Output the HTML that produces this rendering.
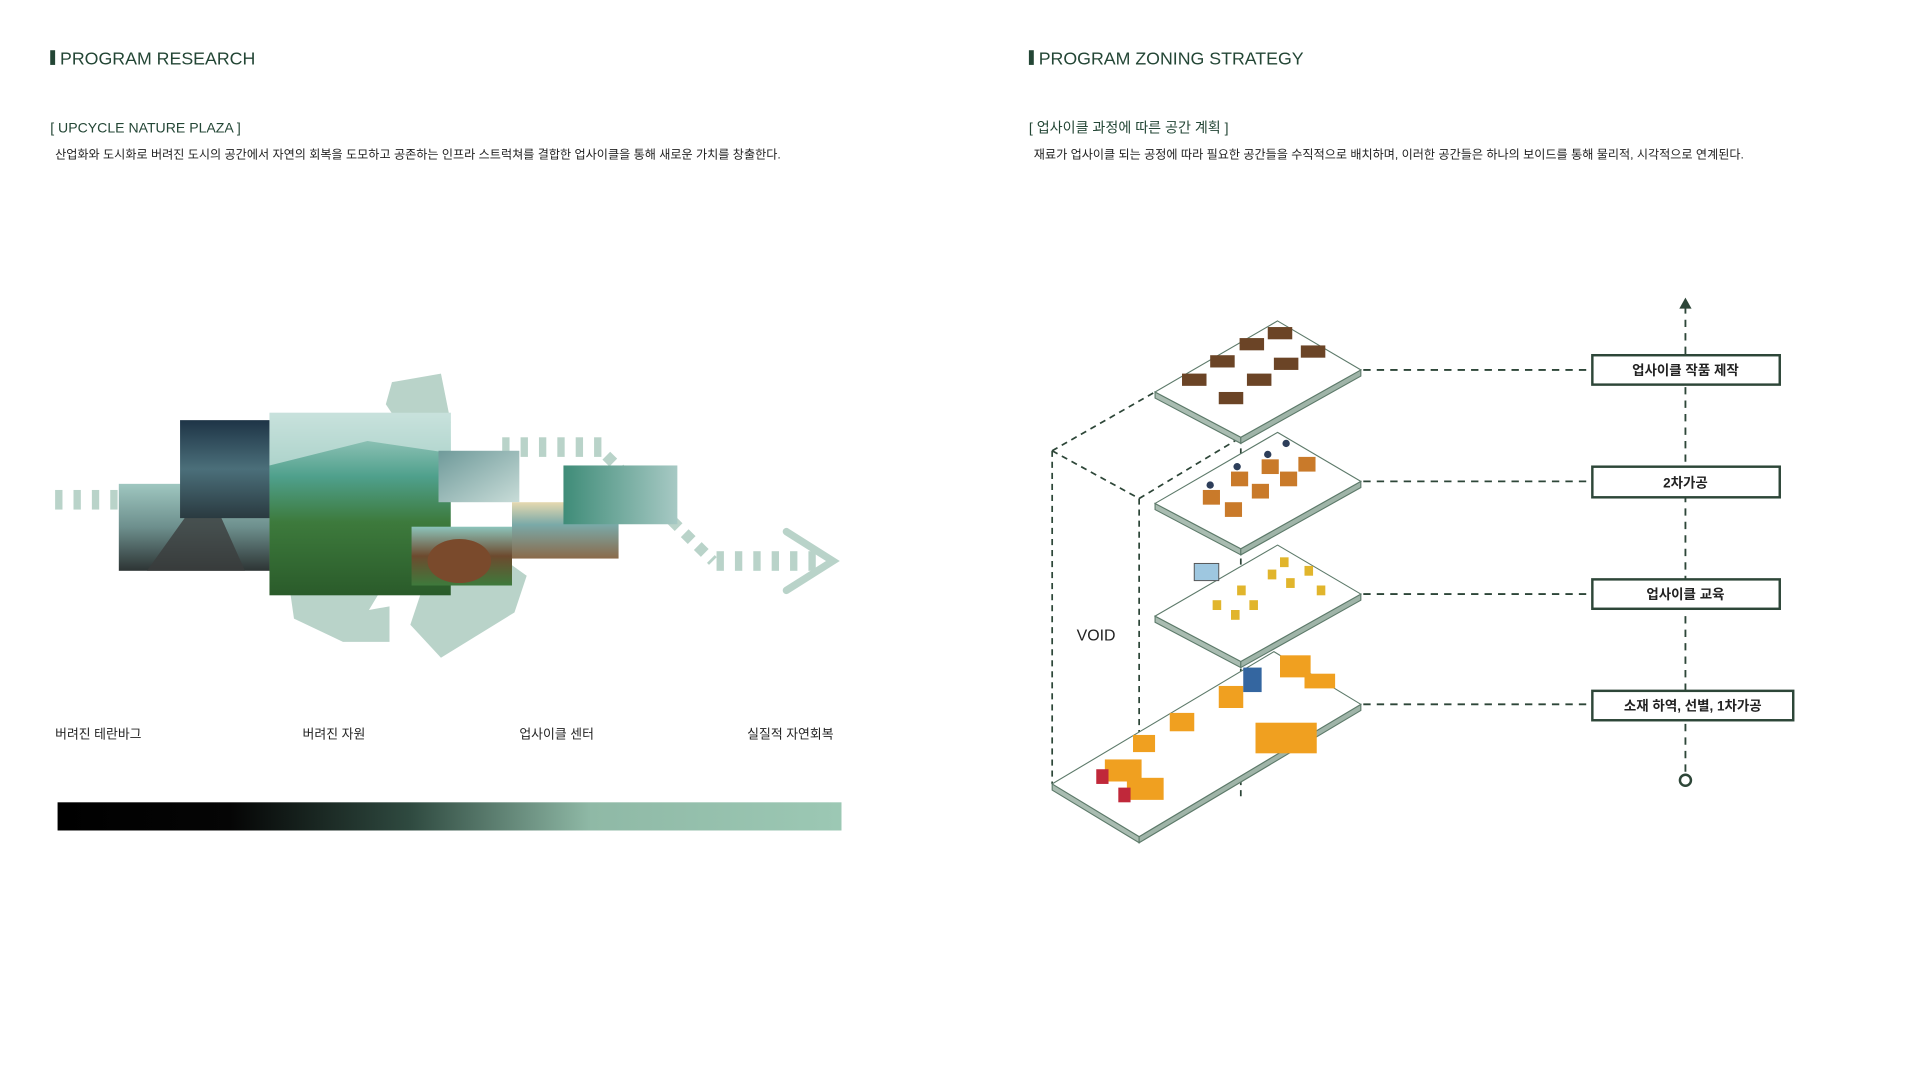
<!DOCTYPE html>
<html><head><meta charset="utf-8"><style>
html,body{margin:0;padding:0;background:#fff;}
svg{display:block;}
text{font-family:"Liberation Sans","Noto Sans CJK KR",sans-serif;}
</style></head><body>
<svg width="1920" height="1080" viewBox="0 0 1567.5 881.7" preserveAspectRatio="none" xmlns="http://www.w3.org/2000/svg">
<defs>
<linearGradient id="bar" x1="0" x2="1" y1="0" y2="0">
<stop offset="0" stop-color="#000"/><stop offset="0.22" stop-color="#050505"/><stop offset="0.45" stop-color="#2f4a40"/><stop offset="0.68" stop-color="#8fb9a6"/><stop offset="1" stop-color="#9cc8b4"/>
</linearGradient>
<linearGradient id="g1" x1="0" x2="0" y1="0" y2="1"><stop offset="0" stop-color="#9fc7c0"/><stop offset="0.5" stop-color="#6d8f8d"/><stop offset="1" stop-color="#2d3434"/></linearGradient>
<linearGradient id="g2" x1="0" x2="0" y1="0" y2="1"><stop offset="0" stop-color="#1e3446"/><stop offset="0.5" stop-color="#4b6f7a"/><stop offset="1" stop-color="#2a3a40"/></linearGradient>
<linearGradient id="g3" x1="0" x2="0" y1="0" y2="1"><stop offset="0" stop-color="#b9d9d2"/><stop offset="0.35" stop-color="#4fa08c"/><stop offset="0.6" stop-color="#3d7a3c"/><stop offset="1" stop-color="#2a5b2a"/></linearGradient>
<linearGradient id="g4" x1="0" x2="1" y1="0" y2="1"><stop offset="0" stop-color="#6f9a9a"/><stop offset="1" stop-color="#c8dcd8"/></linearGradient>
<linearGradient id="g5" x1="0" x2="0" y1="0" y2="1"><stop offset="0" stop-color="#e6d9b0"/><stop offset="0.4" stop-color="#7aa9a8"/><stop offset="1" stop-color="#8a6a4a"/></linearGradient>
<linearGradient id="g6" x1="0" x2="1" y1="0" y2="0"><stop offset="0" stop-color="#3f8c78"/><stop offset="1" stop-color="#a7c9c4"/></linearGradient>
<linearGradient id="g7" x1="0" x2="0" y1="0" y2="1"><stop offset="0" stop-color="#8cc4bb"/><stop offset="0.5" stop-color="#6d4a2e"/><stop offset="1" stop-color="#3e7a3c"/></linearGradient>
</defs>

<!-- Headers -->
<rect x="41" y="41" width="4" height="12" fill="#234635"/>
<text x="49" y="52.5" font-size="14.5" fill="#234635">PROGRAM RESEARCH</text>
<text x="41" y="108" font-size="11.5" fill="#234635">[ UPCYCLE NATURE PLAZA ]</text>
<text x="45" y="129.5" font-size="9.9" fill="#222">산업화와 도시화로 버려진 도시의 공간에서 자연의 회복을 도모하고 공존하는 인프라 스트럭쳐를 결합한 업사이클을 통해 새로운 가치를 창출한다.</text>

<rect x="840" y="41" width="4" height="12" fill="#234635"/>
<text x="848" y="52.5" font-size="14.5" fill="#234635">PROGRAM ZONING STRATEGY</text>
<text x="840" y="108" font-size="11.5" fill="#234635">[ 업사이클 과정에 따른 공간 계획 ]</text>
<text x="844" y="129.5" font-size="9.9" fill="#222">재료가 업사이클 되는 공정에 따라 필요한 공간들을 수직적으로 배치하며, 이러한 공간들은 하나의 보이드를 통해 물리적, 시각적으로 연계된다.</text>

<!-- Recycle symbol -->
<g fill="none" stroke="#b9d3c9" stroke-width="34" stroke-linecap="butt">
<path d="M300 500 A80 80 0 0 1 262 420"/>
<path d="M395 470 A80 80 0 0 1 350 508"/>
<path d="M345 330 L350 360"/>
</g>
<g fill="#b9d3c9">
<polygon points="320,312 360,305 368,345 335,360 315,330"/>
<polygon points="235,470 262,470 290,500 318,495 318,524 280,524 240,505"/>
<polygon points="345,480 395,445 430,470 420,500 360,537 335,510"/>
</g>

<!-- dashed arrows -->
<g fill="#b9d3c9">
<rect x="45" y="400" width="6" height="16"/><rect x="60" y="400" width="6" height="16"/><rect x="75" y="400" width="6" height="16"/><rect x="90" y="400" width="6" height="16"/>
<rect x="410" y="357" width="6" height="16"/><rect x="425" y="357" width="6" height="16"/><rect x="440" y="357" width="6" height="16"/><rect x="455" y="357" width="6" height="16"/><rect x="470" y="357" width="6" height="16"/><rect x="485" y="357" width="6" height="16"/>
<rect x="585" y="450" width="6" height="16"/><rect x="600" y="450" width="6" height="16"/><rect x="615" y="450" width="6" height="16"/><rect x="630" y="450" width="6" height="16"/><rect x="645" y="450" width="6" height="16"/><rect x="660" y="450" width="6" height="16"/>
</g>
<g stroke="#b9d3c9" stroke-width="9" stroke-dasharray="8 7" fill="none">
<line x1="495" y1="372" x2="582" y2="458"/>
</g>
<polyline points="642,434 680,458 642,482" fill="none" stroke="#b9d3c9" stroke-width="6" stroke-linecap="round"/>

<!-- images -->
<rect x="97" y="395" width="123" height="71" fill="url(#g1)"/>
<path d="M120 466 L160 410 L175 410 L200 466 Z" fill="#3b3d3d" opacity="0.8"/>
<rect x="147" y="343" width="73" height="80" fill="url(#g2)"/>
<rect x="220" y="337" width="148" height="149" fill="url(#g3)"/>
<path d="M220 337 L368 337 L368 370 L300 360 L220 380 Z" fill="#cfe5e1" opacity="0.7"/>
<rect x="358" y="368" width="66" height="42" fill="url(#g4)"/>
<rect x="418" y="410" width="87" height="46" fill="url(#g5)"/>
<rect x="460" y="380" width="93" height="48" fill="url(#g6)"/>
<rect x="336" y="430" width="82" height="48" fill="url(#g7)"/>
<ellipse cx="375" cy="458" rx="26" ry="18" fill="#7a4a2c"/>

<!-- labels -->
<g font-size="10.5" fill="#222">
<text x="45" y="603">버려진 테란바그</text>
<text x="247" y="603">버려진 자원</text>
<text x="424" y="603">업사이클 센터</text>
<text x="610" y="603">실질적 자연회복</text>
</g>
<rect x="47" y="655" width="640" height="23" fill="url(#bar)"/>

<!-- RIGHT DIAGRAM -->
<g stroke="#2d4638" stroke-width="1.4" stroke-dasharray="5 4" fill="none">
<line x1="859" y1="368" x2="859" y2="640"/>
<line x1="930" y1="407" x2="930" y2="683"/>
<line x1="1013" y1="357" x2="1013" y2="650"/>
<line x1="859" y1="368" x2="943" y2="320"/>
<line x1="859" y1="368" x2="930" y2="407"/>
<line x1="930" y1="407" x2="1013" y2="357"/>
</g>
<text x="879" y="523" font-size="13" fill="#222">VOID</text>

<g stroke="#5d7a6a" stroke-width="0.9">
<polygon points="943,320 1013,357 1013,362 943,325" fill="#a9bcb1"/>
<polygon points="1013,357 1111,302 1111,307 1013,362" fill="#9fb4a8"/>
<polygon points="1043,262 1111,302 1013,357 943,320" fill="#fff"/>

<polygon points="943,411 1013,448 1013,453 943,416" fill="#a9bcb1"/>
<polygon points="1013,448 1111,393 1111,398 1013,453" fill="#9fb4a8"/>
<polygon points="1043,353 1111,393 1013,448 943,411" fill="#fff"/>

<polygon points="943,503 1013,540 1013,545 943,508" fill="#a9bcb1"/>
<polygon points="1013,540 1111,485 1111,490 1013,545" fill="#9fb4a8"/>
<polygon points="1043,445 1111,485 1013,540 943,503" fill="#fff"/>

<polygon points="859,640 930,683 930,688 859,645" fill="#a9bcb1"/>
<polygon points="930,683 1111,575 1111,580 930,688" fill="#9fb4a8"/>
<polygon points="1040,532 1111,575 930,683 859,640" fill="#fff"/>
</g>

<g fill="#6b4426">
<rect x="965" y="305" width="20" height="10"/><rect x="995" y="320" width="20" height="10"/><rect x="988" y="290" width="20" height="10"/>
<rect x="1018" y="305" width="20" height="10"/><rect x="1012" y="276" width="20" height="10"/><rect x="1040" y="292" width="20" height="10"/>
<rect x="1035" y="267" width="20" height="10"/><rect x="1062" y="282" width="20" height="10"/>
</g>
<g fill="#c97a2a">
<rect x="982" y="400" width="14" height="12"/><rect x="1000" y="410" width="14" height="12"/><rect x="1005" y="385" width="14" height="12"/>
<rect x="1022" y="395" width="14" height="12"/><rect x="1030" y="375" width="14" height="12"/><rect x="1045" y="385" width="14" height="12"/><rect x="1060" y="373" width="14" height="12"/>
</g>
<g fill="#2d3e5a"><circle cx="988" cy="396" r="3"/><circle cx="1010" cy="381" r="3"/><circle cx="1035" cy="371" r="3"/><circle cx="1050" cy="362" r="3"/></g>
<rect x="975" y="460" width="20" height="14" fill="#9ec7e0" stroke="#555" stroke-width="0.8"/>
<g fill="#e1b52c">
<rect x="990" y="490" width="7" height="8"/><rect x="1005" y="498" width="7" height="8"/><rect x="1020" y="490" width="7" height="8"/><rect x="1010" y="478" width="7" height="8"/>
<rect x="1035" y="465" width="7" height="8"/><rect x="1050" y="472" width="7" height="8"/><rect x="1065" y="462" width="7" height="8"/><rect x="1045" y="455" width="7" height="8"/><rect x="1075" y="478" width="7" height="8"/>
</g>
<g fill="#f0a020">
<rect x="1045" y="535" width="25" height="18"/><rect x="1065" y="550" width="25" height="12"/><rect x="1025" y="590" width="50" height="25"/>
<rect x="995" y="560" width="20" height="18"/><rect x="955" y="582" width="20" height="15"/><rect x="925" y="600" width="18" height="14"/>
<rect x="902" y="620" width="30" height="18"/><rect x="920" y="635" width="30" height="18"/>
</g>
<g fill="#c0283a"><rect x="895" y="628" width="10" height="12"/><rect x="913" y="643" width="10" height="12"/></g>
<rect x="1015" y="545" width="15" height="20" fill="#3466a0"/>

<g stroke="#2d4638" stroke-width="1.5" stroke-dasharray="6 5" fill="none">
<line x1="1113" y1="302" x2="1299" y2="302"/>
<line x1="1113" y1="393" x2="1299" y2="393"/>
<line x1="1113" y1="485" x2="1299" y2="485"/>
<line x1="1113" y1="575" x2="1299" y2="575"/>
<line x1="1376" y1="250" x2="1376" y2="632"/>
</g>
<polygon points="1371,252 1376,243 1381,252" fill="#2d4638"/>
<circle cx="1376" cy="637" r="4.5" fill="#fff" stroke="#2d4638" stroke-width="2"/>

<g fill="#fff" stroke="#2d4638" stroke-width="2">
<rect x="1300" y="290" width="153" height="24"/>
<rect x="1300" y="381" width="153" height="25"/>
<rect x="1300" y="473" width="153" height="24"/>
<rect x="1300" y="564" width="164" height="24"/>
</g>
<g font-size="11" fill="#222" font-weight="bold" text-anchor="middle">
<text x="1376" y="306">업사이클 작품 제작</text>
<text x="1376" y="398">2차가공</text>
<text x="1376" y="489">업사이클 교육</text>
<text x="1382" y="580">소재 하역, 선별, 1차가공</text>
</g>
</svg>
</body></html>
